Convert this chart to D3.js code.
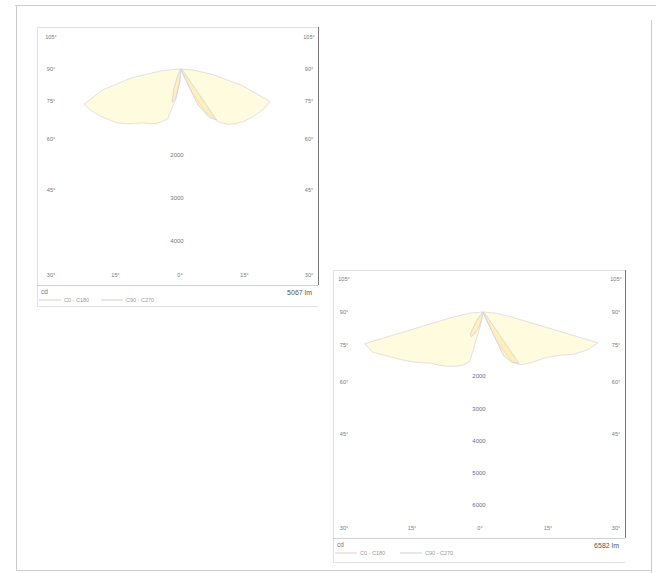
<!DOCTYPE html>
<html>
<head>
<meta charset="utf-8">
<script src="https://cdn.jsdelivr.net/npm/d3@7"></script>
<style>
  body { margin: 0; background: #fff; }
  text { font-family: "Liberation Sans", Arial, sans-serif; }
</style>
</head>
<body>
<script>
var width = 656;
var height = 573;

// gamma angles (deg) for every intensity list below
var gammas = [0, 5, 10, 15, 20, 25, 30, 35, 40, 45, 50, 55, 60, 65, 70, 75, 80, 85, 90];

// luminaire 1, intensity in cd
var lum1C0   = [0, 0, 0, 50, 200, 600, 1150, 1500, 1680, 1800, 1900, 1980, 2060, 2150, 2200, 1450, 750, 300, 0];
var lum1C180 = [0, 200, 700, 1200, 1300, 1400, 1470, 1530, 1650, 1800, 1950, 2050, 2180, 2300, 2400, 1900, 1150, 450, 0];
var lum1C90  = [0, 0, 0, 0, 0, 900, 1300, 1450, 150, 80, 60, 50, 40, 30, 20, 15, 10, 5, 0];
var lum1C270 = [0, 300, 700, 800, 500, 200, 80, 50, 40, 30, 25, 20, 15, 10, 10, 5, 5, 0, 0];

// luminaire 2, intensity in cd
var lum2C0   = [0, 0, 0, 0, 150, 900, 1800, 2000, 2100, 2200, 2300, 2450, 2700, 3100, 3450, 3700, 900, 400, 0];
var lum2C180 = [0, 0, 400, 1600, 1750, 1850, 1950, 2050, 2150, 2250, 2450, 2700, 2950, 3250, 3650, 3800, 1000, 400, 0];
var lum2C90  = [0, 0, 0, 0, 0, 1500, 1800, 1950, 250, 100, 80, 60, 50, 40, 30, 20, 10, 5, 0];
var lum2C270 = [0, 0, 200, 500, 700, 850, 800, 400, 150, 80, 50, 40, 30, 20, 10, 5, 5, 0, 0];

var sideAngles = [105, 90, 75, 60, 45];
var bottomAngles = ["30°", "15°", "0°", "15°", "30°"];
var ticks1 = [2000, 3000, 4000];
var ticks2 = [2000, 3000, 4000, 5000, 6000];
var legendNames = ["C0 - C180", "C90 - C270"];
var fluxLabels = ["5067 lm", "6582 lm"];

var svg = d3.select("body").append("svg")
    .attr("width", width)
    .attr("height", height);

// scanned page border
svg.append("path")
   .attr("d", "M15,5.5H656M16.5,5V570M16,570.5H651M651.5,20V573")
   .attr("stroke", "#cccccc")
   .attr("fill", "none");

function toPoints(vals, side) {
    // side = 1 right half (C0 / C90), -1 left half (C180 / C270)
    return gammas.map(function(g, i) {
        var rad = g * Math.PI / 180;
        return [side > 0 ? Math.PI - rad : Math.PI + rad, vals[i]];
    });
}

function drawPanel(cfg) {
    var g = svg.append("g");
    var rScale = d3.scaleLinear().domain([0, 1000]).range([0, cfg.pxPer1000]);

    // frame
    g.append("path")
     .attr("d", "M" + cfg.x1 + "," + (cfg.yTop + 0.5) + "H" + (cfg.x0 + 0.5) + "V" + (cfg.yBottom + 0.5) + "H" + cfg.x1)
     .attr("stroke", "#e0e0e0").attr("fill", "none");
    g.append("line")
     .attr("x1", cfg.x1 + 0.5).attr("x2", cfg.x1 + 0.5)
     .attr("y1", cfg.yTop).attr("y2", cfg.yAxis)
     .attr("stroke", "#777").attr("stroke-width", 1);
    g.append("line")
     .attr("x1", cfg.x0).attr("x2", cfg.x1)
     .attr("y1", cfg.yAxis + 0.5).attr("y2", cfg.yAxis + 0.5)
     .attr("stroke", "#d0d0d0");

    var line = d3.lineRadial()
        .angle(function(d) { return d[0]; })
        .radius(function(d) { return rScale(d[1]); })
        .curve(d3.curveLinearClosed);

    var curves = [
        { pts: toPoints(cfg.c0, 1).concat(toPoints(cfg.c180, -1).reverse()), fill: "#fff4b0", op: 0.4, stroke: "#e2d6d8" },
        { pts: toPoints(cfg.c90, 1).concat(toPoints(cfg.c270, -1).reverse()), fill: "#ffe08c", op: 0.45, stroke: "#d0d2e2" }
    ];

    g.append("g")
     .attr("transform", "translate(" + cfg.cx + "," + cfg.cy + ")")
     .selectAll("path")
     .data(curves)
     .enter()
     .append("path")
     .attr("d", function(d) { return line(d.pts); })
     .attr("fill", function(d) { return d.fill; })
     .attr("fill-opacity", function(d) { return d.op; })
     .attr("stroke", function(d) { return d.stroke; })
     .attr("stroke-width", 0.8);

    // intensity labels down the middle
    g.selectAll("text.rt")
     .data(cfg.ticks)
     .enter()
     .append("text")
     .attr("class", "rt")
     .text(function(d) { return d; })
     .attr("x", cfg.cx - 4)
     .attr("y", function(d) { return cfg.cy + rScale(d) + 2; })
     .attr("text-anchor", "middle")
     .attr("font-size", "6px")
     .attr("fill", cfg.tickColor);

    // angle labels on both sides
    function sideY(a) {
        return cfg.cy + cfg.gridHalf / Math.tan(a * Math.PI / 180) + 2;
    }
    [cfg.xLeftLab, cfg.xRightLab].forEach(function(xl) {
        g.selectAll(null)
         .data(sideAngles)
         .enter()
         .append("text")
         .text(function(d) { return d + "°"; })
         .attr("x", xl)
         .attr("y", sideY)
         .attr("text-anchor", "middle")
         .attr("font-size", "5.5px")
         .attr("fill", "#777");
    });

    var xBottom = d3.scalePoint()
        .domain(d3.range(bottomAngles.length))
        .range([cfg.xLeftLab, cfg.xRightLab]);
    g.selectAll(null)
     .data(bottomAngles)
     .enter()
     .append("text")
     .text(function(d) { return d; })
     .attr("x", function(d, i) { return xBottom(i); })
     .attr("y", cfg.yAxis - 8)
     .attr("text-anchor", "middle")
     .attr("font-size", "5.5px")
     .attr("fill", "#777");

    // footer: unit, legend, flux
    g.append("text").text("cd")
     .attr("x", cfg.x0 + 4).attr("y", cfg.yAxis + 9)
     .attr("font-size", "6.5px").attr("fill", "#777");
    g.append("text").text(cfg.flux)
     .attr("x", cfg.x1 - 6).attr("y", cfg.yAxis + 10)
     .attr("text-anchor", "end")
     .attr("font-size", "7px").attr("fill", "#555");

    var legendColors = ["#e4bcbc", "#c0c4da"];
    var leg = g.selectAll("g.leg")
     .data(legendNames)
     .enter()
     .append("g")
     .attr("transform", function(d, i) {
         return "translate(" + (cfg.x0 + 2 + i * cfg.legendStep) + "," + (cfg.yAxis + 15) + ")";
     });
    leg.append("line")
     .attr("x1", 0).attr("x2", 22)
     .attr("stroke", function(d, i) { return legendColors[i]; })
     .attr("stroke-width", 0.8);
    leg.append("text")
     .text(function(d) { return d; })
     .attr("x", 25).attr("y", 2)
     .attr("font-size", "5.5px").attr("fill", "#999");
}

drawPanel({
    x0: 37, x1: 318, yTop: 27, yAxis: 285, yBottom: 306,
    cx: 181, cy: 69, pxPer1000: 43, gridHalf: 121,
    xLeftLab: 51, xRightLab: 309,
    c0: lum1C0, c180: lum1C180, c90: lum1C90, c270: lum1C270,
    ticks: ticks1, tickColor: "#777", flux: fluxLabels[0], legendStep: 62
});

drawPanel({
    x0: 333, x1: 625, yTop: 270, yAxis: 538, yBottom: 562,
    cx: 483, cy: 312, pxPer1000: 32.2, gridHalf: 122,
    xLeftLab: 344, xRightLab: 616,
    c0: lum2C0, c180: lum2C180, c90: lum2C90, c270: lum2C270,
    ticks: ticks2, tickColor: "#6a6e94", flux: fluxLabels[1], legendStep: 65
});
</script>
</body>
</html>
